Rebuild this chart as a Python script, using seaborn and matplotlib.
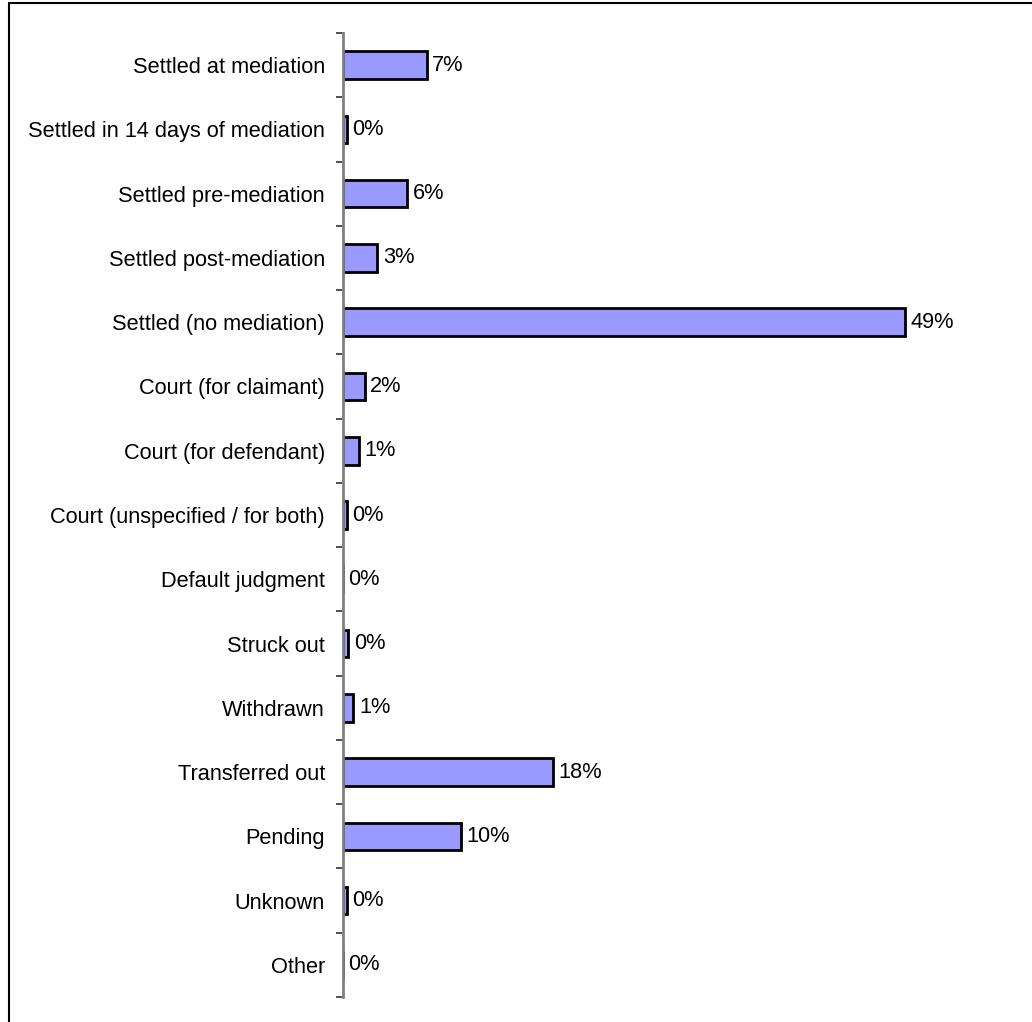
import matplotlib
matplotlib.use("Agg")
import matplotlib.pyplot as plt
import seaborn as sns
import pandas as pd
import numpy as np
from matplotlib import font_manager

categories = [
    "Settled at mediation",
    "Settled in 14 days of mediation",
    "Settled pre-mediation",
    "Settled post-mediation",
    "Settled (no mediation)",
    "Court (for claimant)",
    "Court (for defendant)",
    "Court (unspecified / for both)",
    "Default judgment",
    "Struck out",
    "Withdrawn",
    "Transferred out",
    "Pending",
    "Unknown",
    "Other",
]
shares = [7.3, 0.35, 5.6, 3.0, 49.0, 1.9, 1.4, 0.35, 0.0, 0.45, 0.9, 18.3, 10.3, 0.35, 0.0]

df = pd.DataFrame({"outcome": categories, "share": shares})

sns.set_style("white")
installed = {f.name for f in font_manager.fontManager.ttflist}
family = [f for f in ["Liberation Sans Narrow", "Liberation Sans", "DejaVu Sans"] if f in installed]
plt.rcParams["font.family"] = family
plt.rcParams["text.color"] = "black"
plt.rcParams["ytick.labelcolor"] = "black"

W, H = 1032, 1022
fig = plt.figure(figsize=(W / 100, H / 100), dpi=100)
ax = fig.add_axes([343 / W, 1 - 997 / H, (1000 - 343) / W, (997 - 33) / H])

sns.barplot(data=df, y="outcome", x="share", orient="h", ax=ax,
            color="#9999FF", edgecolor="black", linewidth=2, width=0.43,
            saturation=1)

ax.set_xlim(0, (1000 - 343) / 11.47)
ax.set_ylim(len(categories) - 0.5, -0.5)
ax.set_xlabel("")
ax.set_ylabel("")
ax.set_xticks([])

for s in ["top", "right", "bottom"]:
    ax.spines[s].set_visible(False)
ax.spines["left"].set_color("#808080")
ax.spines["left"].set_linewidth(2)

ax.set_yticks(np.arange(len(categories)))
ax.set_yticklabels(categories, fontsize=15.7, color="black")
ax.tick_params(axis="y", which="major", length=0, pad=13)
ax.set_yticks(np.arange(-0.5, len(categories), 1.0), minor=True)
ax.tick_params(axis="y", which="minor", length=5, width=1.2, color="#333333", left=True)

for i, v in enumerate(shares):
    ax.annotate(f"{v:.0f}%", xy=(v, i), xytext=(4, 0), textcoords="offset points",
                va="center", ha="left", fontsize=15.7, color="black")

# outer frame (open at bottom and right)
fig.add_artist(plt.Line2D([9 / W, 9 / W], [0, 1 - 3 / H], color="black", lw=1.5,
                          transform=fig.transFigure))
fig.add_artist(plt.Line2D([9 / W, 1], [1 - 3 / H, 1 - 3 / H], color="black", lw=1.5,
                          transform=fig.transFigure))

fig.savefig("out.png", dpi=100, facecolor="white")
